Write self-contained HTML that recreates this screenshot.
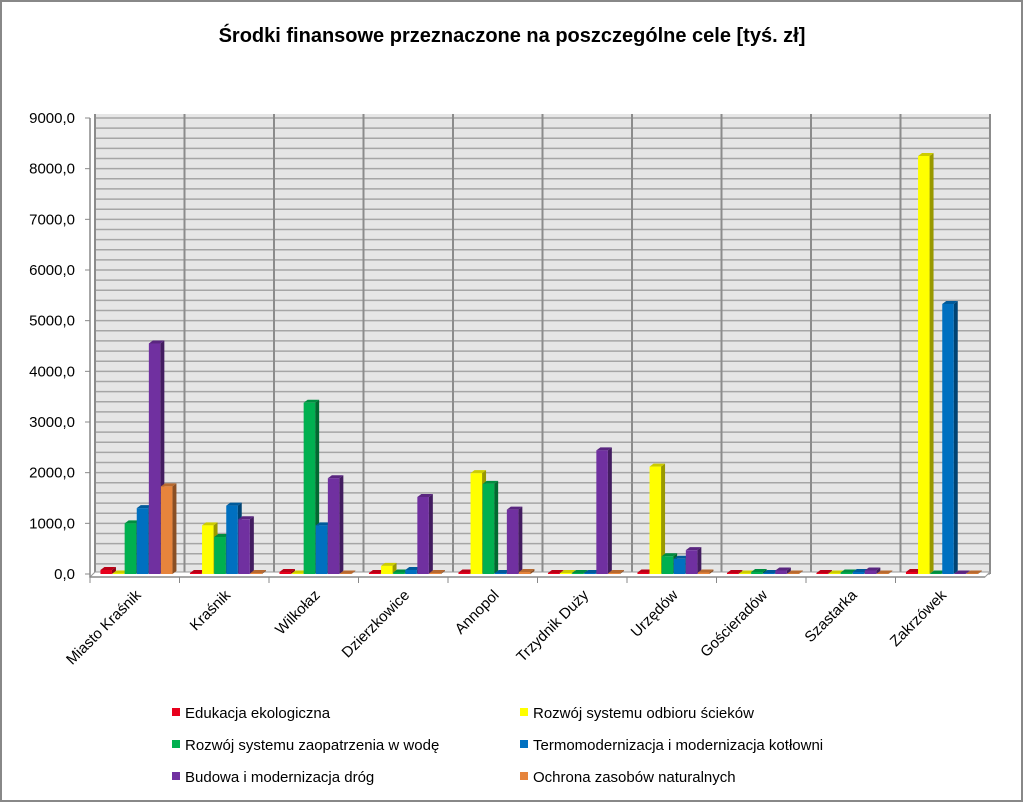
<!DOCTYPE html>
<html><head><meta charset="utf-8"><style>
body{margin:0;background:#fff;}
svg{display:block;font-family:"Liberation Sans",sans-serif;}
</style></head><body>
<svg id="c" width="1024" height="803" xmlns="http://www.w3.org/2000/svg">
<rect x="1" y="1" width="1021" height="800" fill="#fff" stroke="#888" stroke-width="2"/>
<text x="512" y="42" text-anchor="middle" font-size="20" font-weight="bold">Środki finansowe przeznaczone na poszczególne cele [tyś. zł]</text>
<g id="plot"></g>
<g id="legend"></g>
</svg>
<script>
const categories=["Miasto Kraśnik","Kraśnik","Wilkołaz","Dzierzkowice","Annopol","Trzydnik Duży","Urzędów","Gościeradów","Szastarka","Zakrzówek"];
const seriesNames=["Edukacja ekologiczna","Rozwój systemu odbioru ścieków","Rozwój systemu zaopatrzenia w wodę","Termomodernizacja i modernizacja kotłowni","Budowa i  modernizacja dróg","Ochrona zasobów naturalnych"];
const seriesColors=["#e8001c","#ffff00","#00b050","#0070c0","#7030a0","#e6843c"];
const edukacja=[80,20,40,20,30,20,30,20,20,40];
const scieki=[10,960,10,160,1990,20,2120,10,10,8250];
const woda=[1000,730,3380,30,1780,20,350,40,30,10];
const termo=[1300,1350,960,80,20,20,300,20,40,5330];
const drogi=[4550,1080,1890,1520,1270,2440,470,70,70,10];
const ochrona=[1730,20,10,20,40,20,30,10,10,10];
const series=[edukacja,scieki,woda,termo,drogi,ochrona];
const yTicks=[0,1000,2000,3000,4000,5000,6000,7000,8000,9000];
const yMax=9000;
const X0=95,X1=990,Y0=574,Y1=118;
const NS="http://www.w3.org/2000/svg";
const plot=document.getElementById('plot');
function mk(t,a,p){const e=document.createElementNS(NS,t);for(const k in a)e.setAttribute(k,a[k]);(p||plot).appendChild(e);return e;}
const y=v=>Y0-(v/yMax)*(Y0-Y1);
const cw=(X1-X0)/categories.length;
const xc=i=>X0+cw*i;
// wall
let w=mk('rect',{x:X0,y:Y1-4,width:X1-X0,height:Y0-Y1+4,fill:"#e6e6e6"});


for(let v=0;v<=yMax;v+=200){let l=mk('line',{x1:X0,x2:X1,y1:y(v),y2:y(v),stroke:"#a6a6a6","stroke-width":(v%1000===0?1.5:1.5)});

}
for(let i=0;i<=categories.length;i++){let l=mk('line',{x1:xc(i),x2:xc(i),y1:Y1-4,y2:Y0,stroke:"#8c8c8c","stroke-width":2});

}
// floor
let f=mk('polygon',{points:`${X0-5},${Y0+3} ${X1-5},${Y0+3} ${X1},${Y0-2} ${X0},${Y0-2}`,fill:"#fff",stroke:"#999"});


// y axis
let ax=mk('line',{x1:90,x2:90,y1:Y1,y2:Y0+3,stroke:"#888","stroke-width":1.5});


yTicks.forEach(v=>{
 let t=mk('line',{x1:85,x2:90,y1:y(v),y2:y(v),stroke:"#888"});
 
 
 let tx=mk('text',{x:75,y:y(v)+5,"text-anchor":"end","font-size":15,fill:"#000"});
 tx.textContent=v.toFixed(1).replace('.',',');
 
 
});
// x axis ticks & labels
let xa=mk('line',{x1:X0-5,x2:X1-5,y1:Y0+3,y2:Y0+3,stroke:"#888","stroke-width":1.5});


categories.forEach((c,i)=>{
 let t=mk('line',{x1:xc(i)-5,x2:xc(i)-5,y1:Y0+3,y2:Y0+9,stroke:"#888"});
 
 
 const lx=xc(i)+cw/2+2,ly=Y0+22;
 let tx=mk('text',{x:lx,y:ly,"text-anchor":"end","font-size":15,transform:`rotate(-45 ${lx} ${ly})`});
 tx.textContent=c;
 
 
});
// bars
const bw=11.5, gap=0.6, d=4;
function shade(hex,k){const n=parseInt(hex.slice(1),16);let r=n>>16,g=(n>>8)&255,b=n&255;return `rgb(${Math.round(r*k)},${Math.round(g*k)},${Math.round(b*k)})`;}
categories.forEach((c,i)=>{
 const gw=series.length*(bw+gap);
 const start=xc(i)+(cw-gw)/2-3;
 series.forEach((s,j)=>{
  const v=s[i];const bx=start+j*(bw+gap);const top=y(v);const h=Y0-top;
  const g=mk('g',{});
  
  
  mk('polygon',{points:`${bx+bw},${top} ${bx+bw+d},${top-3} ${bx+bw+d},${Y0-3} ${bx+bw},${Y0}`,fill:shade(seriesColors[j],0.6)},g);
  mk('polygon',{points:`${bx},${top} ${bx+d},${top-3} ${bx+bw+d},${top-3} ${bx+bw},${top}`,fill:shade(seriesColors[j],0.8)},g);
  mk('rect',{x:bx,y:top,width:bw,height:Math.max(h,0.5),fill:seriesColors[j]},g);
 });
});
// legend
const lg=document.getElementById('legend');
const lpos=[[172,718],[520,718],[172,750],[520,750],[172,782],[520,782]];
seriesNames.forEach((n,j)=>{
 const g=mk('g',{},lg);
 
 
 mk('rect',{x:lpos[j][0],y:lpos[j][1]-10,width:8,height:8,fill:seriesColors[j]},g);
 const t=mk('text',{x:lpos[j][0]+13,y:lpos[j][1],"font-size":15},g);
 t.textContent=n;
});
</script>
</body></html>
